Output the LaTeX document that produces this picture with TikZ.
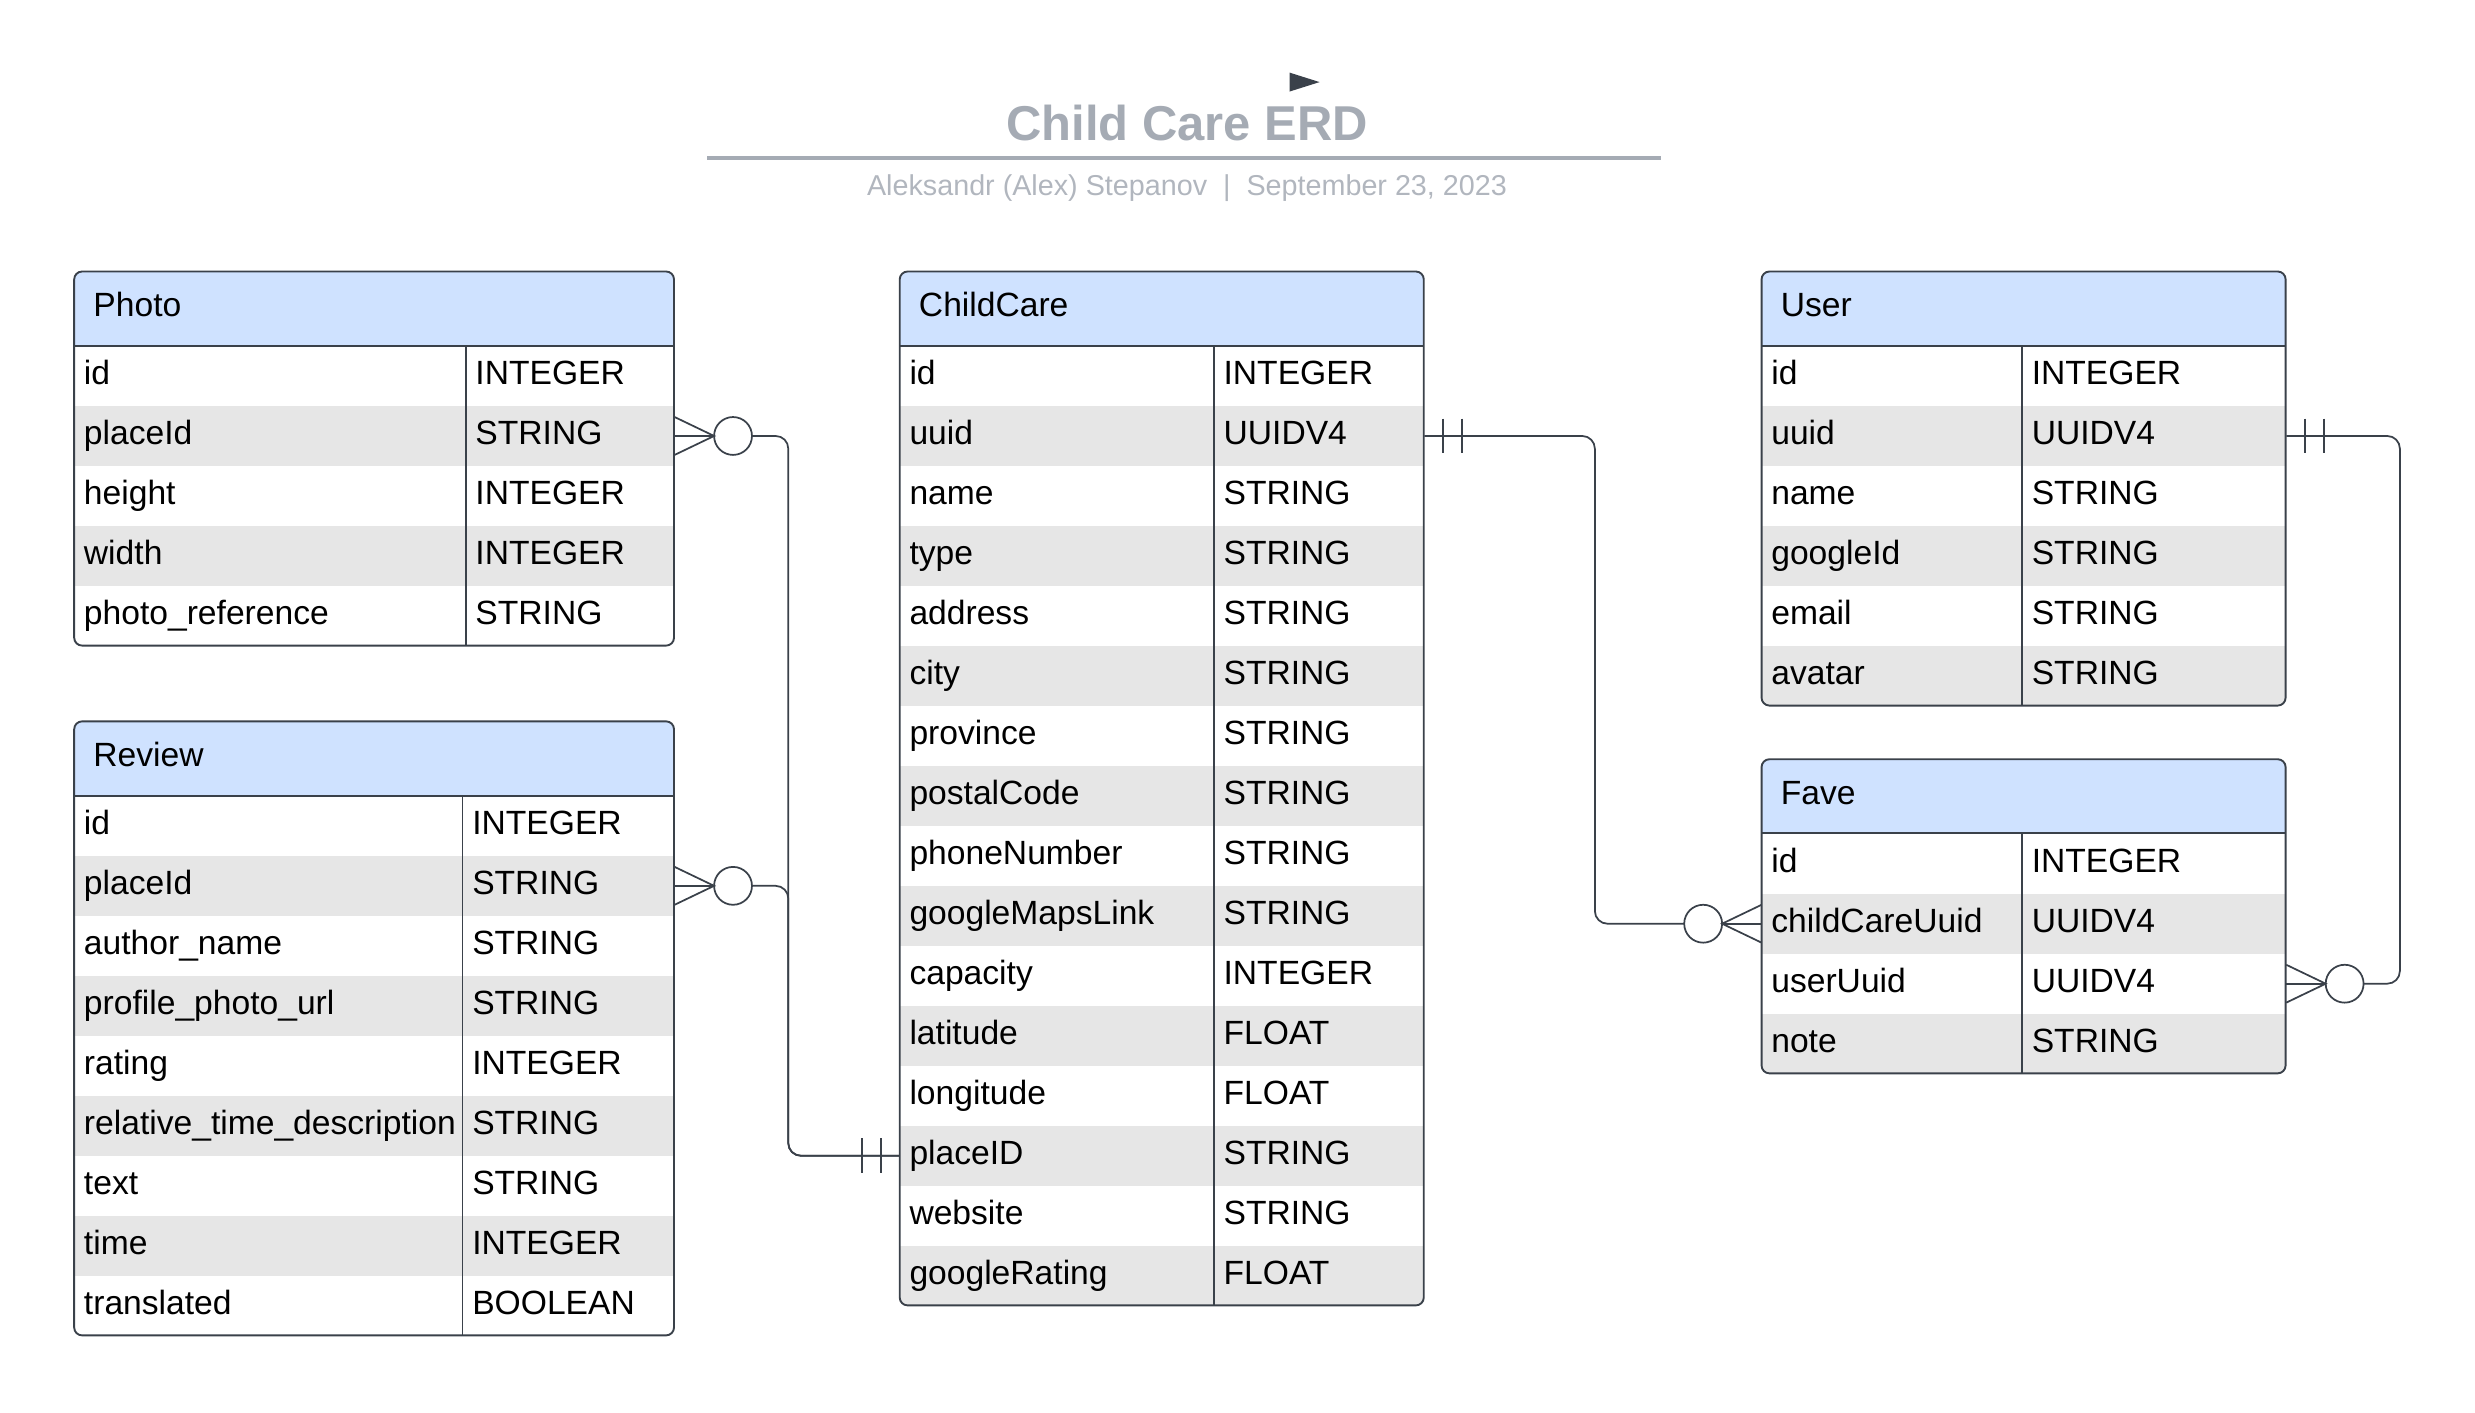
\documentclass[tikz,border=0pt]{standalone}
\usepackage{fontspec}
\setmainfont{Liberation Sans}
\usepackage{tikz}
\usetikzlibrary{calc}

\definecolor{erdborder}{HTML}{3A414A}
\definecolor{erdhead}{HTML}{CFE2FF}
\definecolor{erdgray}{HTML}{E6E6E6}
\definecolor{titlegray}{HTML}{A5ABB4}
\definecolor{subgray}{HTML}{B1B6BE}

\tikzset{
	tabline/.style={line width=1.2pt, color=erdborder},
	connline/.style={line width=1.1pt, color=erdborder},
	headcell/.style={inner sep=0pt, minimum height=47pt, anchor=north west, fill=erdhead},
	rowcell/.style={inner sep=0pt, minimum height=38pt, anchor=north west},
	celltext/.style={inner sep=0pt, anchor=base west, font=\fontsize{21.3}{25}\selectfont},
}

% table: (name)(x,y)[width:divider]{title}{field/type,...}
\def\erdtable(#1)(#2,#3)[#4:#5]#6#7{%
	\begin{scope}[shift={(#2,#3)}]
		\foreach \fld/\typ [count=\n] in {#7} {\xdef\nrows{\n}}
		\pgfmathsetmacro\tabh{47+38*\nrows}
		\begin{scope}
			\clip[rounded corners=5pt] (0,0) rectangle (#4,\tabh);
			\node[headcell, minimum width=#4pt] (#1) at (0,0) {};
			\node[celltext] at ([xshift=12pt, yshift=-5pt]#1.west) {#6};
			\foreach \fld/\typ [count=\i] in {#7} {
				\ifodd\i\relax \def\rowcol{white}\else \def\rowcol{erdgray}\fi
				\node[rowcell, minimum width=#4pt, fill=\rowcol] (#1-\i) at (0,{9+38*\i}) {};
				\node[celltext] at ([xshift=6pt, yshift=-5.7pt]#1-\i.west) {\fld};
				\node[celltext] at ([xshift=#5pt+6pt, yshift=-5.7pt]#1-\i.west) {\typ};
			}
		\end{scope}
		\draw[tabline, rounded corners=5pt] (0,0) rectangle (#4,\tabh);
		\draw[tabline] (0,47) -- (#4,47);
		\draw[tabline] (#5,47) -- (#5,\tabh);
	\end{scope}}

% zero or many: three prongs and a ring, #2 = 1 (right) or -1 (left)
\def\zeromany(#1)(#2){%
	\draw[connline] ($(#1)+(0,-12)$) -- ($(#1)+(#2*25,0)$) -- ($(#1)+(0,12)$);
	\draw[connline] (#1) -- ($(#1)+(#2*25,0)$);
	\draw[connline] ($(#1)+(#2*37,0)$) circle (12pt);}
% exactly one: two bars
\def\exactlyone(#1)(#2){%
	\draw[connline] ($(#1)+(#2*12,-11)$) -- ($(#1)+(#2*12,11)$);
	\draw[connline] ($(#1)+(#2*24,-11)$) -- ($(#1)+(#2*24,11)$);}

\begin{document}
\begin{tikzpicture}[x=1pt, y=-1pt]
		%%%%% START %%%%%
		\useasboundingbox (0,0) rectangle (1568,895);
		
		\fill[erdborder] (817,46) -- (836,52) -- (817,58) -- cycle;
		\node[font=\fontsize{31}{36}\selectfont\bfseries, text=titlegray] (title) at (752,78) {Child Care ERD};
		\draw[line width=2.5pt, color=titlegray] (448,100) -- (1052,100);
		\node[font=\fontsize{18.2}{21}\selectfont, text=subgray] (byline) at (752,119) {Aleksandr (Alex) Stepanov \ |\ \ September 23, 2023};
		
		\erdtable(photo)(47,172)[380:248]{Photo}{id/INTEGER, placeId/STRING, height/INTEGER, width/INTEGER, photo\_reference/STRING}
		
		\erdtable(review)(47,457)[380:246]{Review}{id/INTEGER, placeId/STRING, author\_name/STRING, profile\_photo\_url/STRING, rating/INTEGER, relative\_time\_description/STRING, text/STRING, time/INTEGER, translated/BOOLEAN}
		
		\erdtable(childcare)(570,172)[332:199]{ChildCare}{id/INTEGER, uuid/UUIDV4, name/STRING, type/STRING, address/STRING, city/STRING, province/STRING, postalCode/STRING, phoneNumber/STRING, googleMapsLink/STRING, capacity/INTEGER, latitude/FLOAT, longitude/FLOAT, placeID/STRING, website/STRING, googleRating/FLOAT}
		
		\erdtable(user)(1116,172)[332:165]{User}{id/INTEGER, uuid/UUIDV4, name/STRING, googleId/STRING, email/STRING, avatar/STRING}
		
		\erdtable(fave)(1116,481)[332:165]{Fave}{id/INTEGER, childCareUuid/UUIDV4, userUuid/UUIDV4, note/STRING}
		
		% photo / review -> childcare
		\zeromany(photo-2.east)(1)
		\zeromany(review-2.east)(1)
		\exactlyone(childcare-14.west)(-1)
		\draw[connline, rounded corners=8pt] ([xshift=49pt]photo-2.east) -- ++(23,0) |- (childcare-14.west);
		\draw[connline, rounded corners=8pt] ([xshift=49pt]review-2.east) -- ++(23,0) |- (childcare-14.west);
		
		% childcare -> fave
		\exactlyone(childcare-2.east)(1)
		\zeromany(fave-2.west)(-1)
		\draw[connline, rounded corners=8pt] (childcare-2.east) -- ++(108,0) |- ([xshift=-49pt]fave-2.west);
		
		% user -> fave
		\exactlyone(user-2.east)(1)
		\zeromany(fave-3.east)(1)
		\draw[connline, rounded corners=8pt] (user-2.east) -- ++(72,0) |- ([xshift=49pt]fave-3.east);
		
		%%%%% END %%%%%
\end{tikzpicture}
\end{document}
